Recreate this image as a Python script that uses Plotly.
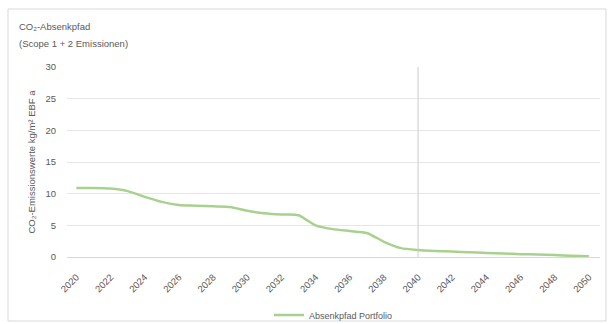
import plotly.graph_objects as go

years = list(range(2020, 2051))
values = [10.9, 10.9, 10.8, 10.4, 9.5, 8.7, 8.2, 8.1, 8.0, 7.9,
          7.3, 6.9, 6.7, 6.6, 5.0, 4.4, 4.1, 3.8, 2.4, 1.4,
          1.1, 0.95, 0.85, 0.75, 0.65, 0.55, 0.45, 0.4, 0.3, 0.2, 0.1]
x_ticks = list(range(2020, 2051, 2))
y_ticks = [0, 5, 10, 15, 20, 25, 30]
marker_year = 2040
series_name = "Absenkpfad Portfolio"
title_line1 = "CO₂-Absenkpfad"
title_line2 = "(Scope 1 + 2 Emissionen)"
y_title = "CO₂-Emissionswerte kg/m² EBF a"

W, H = 610, 324
L, R, T, B = 67, 10, 67, 67
pw, ph = W - L - R, H - T - B

def px_x(p):
    return (p - L) / pw

def px_y(p):
    return (H - B - p) / ph

grey = "#595959"
fig = go.Figure()
fig.add_trace(go.Scatter(
    x=years, y=values, mode="lines", name=series_name,
    line=dict(color="#a9d18e", width=2.5, shape="spline", smoothing=0.6),
))
fig.update_layout(
    width=W, height=H,
    margin=dict(l=L, r=R, t=T, b=B, autoexpand=False),
    paper_bgcolor="white", plot_bgcolor="white",
    font=dict(family="Liberation Sans, Arial, sans-serif", size=9, color=grey),
    showlegend=True,
    legend=dict(orientation="h", x=0.5, xanchor="center", y=px_y(315), yanchor="middle",
                font=dict(size=9, color=grey), bgcolor="rgba(0,0,0,0)"),
    xaxis=dict(range=[2019.45, 2050.65], tickvals=x_ticks, tickangle=-45,
               showgrid=False, zeroline=False, showline=True, linecolor="#d9d9d9",
               ticks="", ticklabelstandoff=10, tickfont=dict(size=9.5, color=grey),
               automargin=False),
    yaxis=dict(range=[0, 30], tickvals=y_ticks, showgrid=True, gridcolor="#e6e6e6",
               zeroline=False, ticks="", ticklabelstandoff=10, automargin=False,
               tickfont=dict(size=9.5, color=grey),
               title=dict(text=y_title, font=dict(size=9.5, color=grey), standoff=8)),
    annotations=[
        dict(text=title_line1, xref="paper", yref="paper", x=px_x(17), y=px_y(26),
             xanchor="left", yanchor="middle", showarrow=False,
             font=dict(size=9.5, color=grey)),
        dict(text=title_line2, xref="paper", yref="paper", x=px_x(17), y=px_y(43),
             xanchor="left", yanchor="middle", showarrow=False,
             font=dict(size=9.5, color=grey)),
    ],
    shapes=[
        dict(type="line", xref="x", yref="y", x0=marker_year, x1=marker_year, y0=0, y1=30,
             line=dict(color="#cccccc", width=1)),
        dict(type="rect", xref="paper", yref="paper",
             x0=px_x(8), x1=px_x(606), y0=px_y(321), y1=px_y(9),
             line=dict(color="#d9d9d9", width=1), layer="below"),
    ],
)
fig.write_html("out.html")
